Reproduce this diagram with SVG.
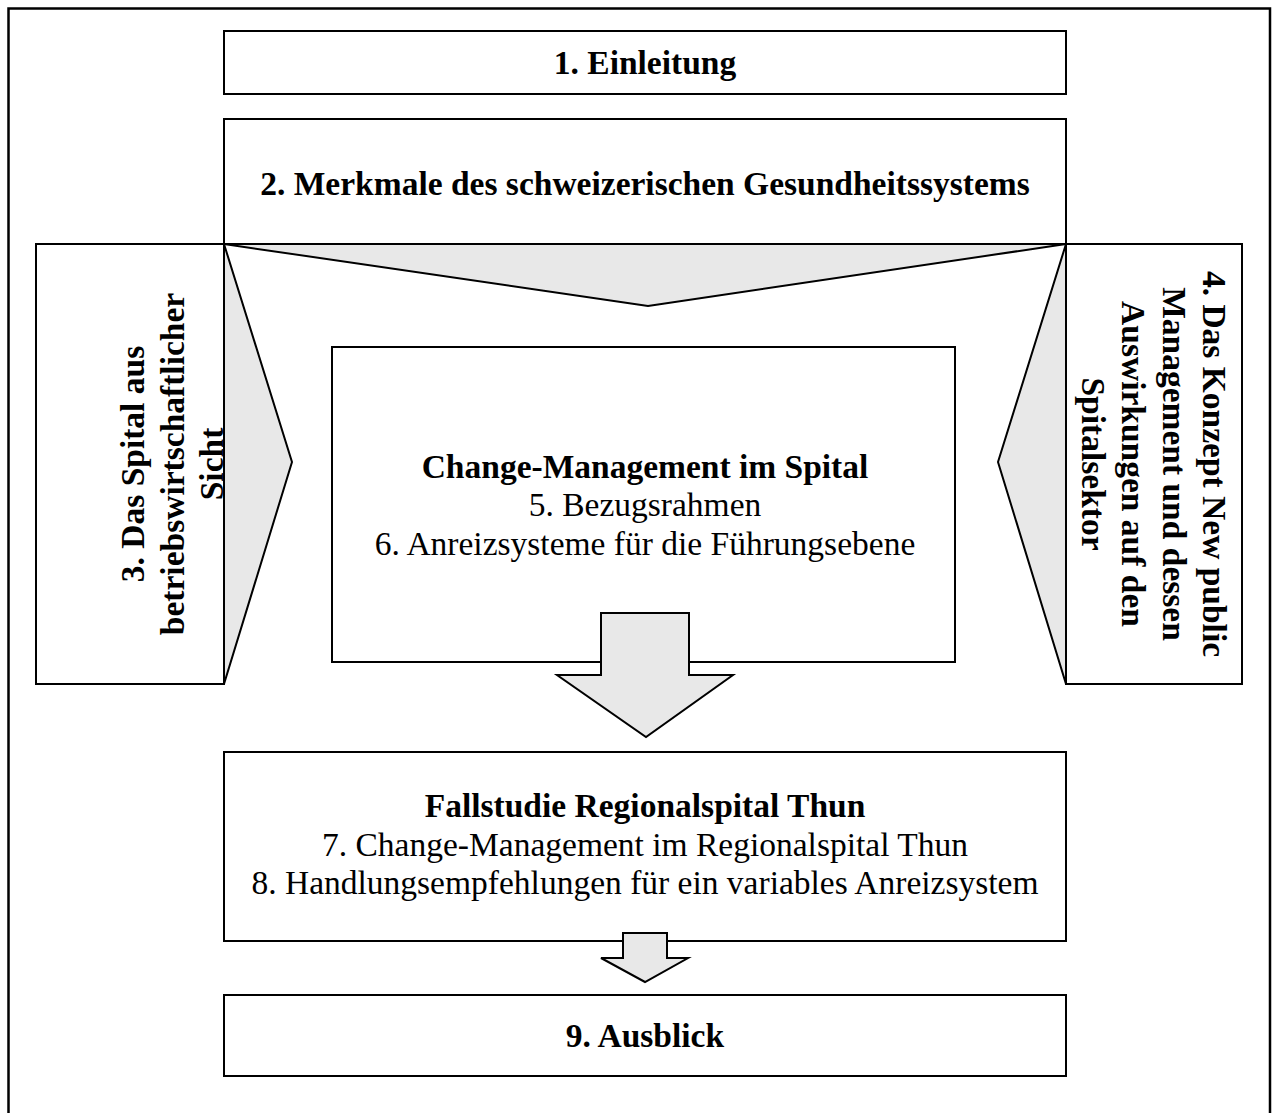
<svg xmlns="http://www.w3.org/2000/svg" width="1274" height="1113" viewBox="0 0 1274 1113">
  <style>
    .box { fill: #ffffff; stroke: #000000; stroke-width: 2; }
    .wedge { fill: #e8e8e8; stroke: #000000; stroke-width: 2; stroke-linejoin: miter; }
    .t { font-family: "Liberation Serif", "Times New Roman", serif; font-size: 33.5px; fill: #000000; text-anchor: middle; }
    .b { font-weight: bold; }
  </style>

  <!-- outer frame (open at the bottom) -->
  <path d="M8.5,1113 V8.5 H1270 V1113" fill="none" stroke="#000000" stroke-width="2.5"/>

  <g id="n1">
    <rect class="box" x="224" y="31" width="842" height="63"/>
    <text class="t b" x="645" y="74">1. Einleitung</text>
  </g>

  <g id="n2">
    <rect class="box" x="224" y="119" width="842" height="125"/>
    <text class="t b" x="645" y="195">2. Merkmale des schweizerischen Gesundheitssystems</text>
  </g>

  <g id="n3">
    <rect class="box" x="36" y="244" width="188" height="440"/>
    <text class="t b" transform="translate(144,464) rotate(-90)" x="0" y="0">3. Das Spital aus</text>
    <text class="t b" transform="translate(184,464) rotate(-90)" x="0" y="0">betriebswirtschaftlicher</text>
    <text class="t b" transform="translate(223,464) rotate(-90)" x="0" y="0">Sicht</text>
  </g>

  <g id="n4">
    <rect class="box" x="1066" y="244" width="176" height="440"/>
    <text class="t b" transform="translate(1203,464) rotate(90)" x="0" y="0">4. Das Konzept New public</text>
    <text class="t b" transform="translate(1163,464) rotate(90)" x="0" y="0">Management und dessen</text>
    <text class="t b" transform="translate(1122,464) rotate(90)" x="0" y="0">Auswirkungen auf den</text>
    <text class="t b" transform="translate(1082,464) rotate(90)" x="0" y="0">Spitalsektor</text>
  </g>

  <g id="connectors">
    <!-- wedges pointing inward from sections 2, 3 and 4 -->
    <polygon class="wedge" points="224,244 1066,244 648,306"/>
    <polygon class="wedge" points="224,244 292,462 224,684"/>
    <polygon class="wedge" points="1066,244 998,462 1066,684"/>
  </g>

  <g id="n5">
    <rect class="box" x="332" y="347" width="623" height="315"/>
    <text class="t b" x="645" y="478">Change-Management im Spital</text>
    <text class="t" x="645" y="516">5. Bezugsrahmen</text>
    <text class="t" x="645" y="555">6. Anreizsysteme für die Führungsebene</text>
  </g>

  <g id="connectors-arrows">
    <polygon class="wedge" points="601,613 689,613 689,675 733,675 646,737 557,675 601,675"/>
  </g>

  <g id="n7">
    <rect class="box" x="224" y="752" width="842" height="189"/>
    <text class="t b" x="645" y="817">Fallstudie Regionalspital Thun</text>
    <text class="t" x="645" y="856">7. Change-Management im Regionalspital Thun</text>
    <text class="t" x="645" y="894">8. Handlungsempfehlungen für ein variables Anreizsystem</text>
  </g>

  <g id="connectors-arrow2">
    <polygon class="wedge" points="623,933 667,933 667,958 688,958 645,982 601,958 623,958"/>
  </g>

  <g id="n9">
    <rect class="box" x="224" y="995" width="842" height="81"/>
    <text class="t b" x="645" y="1047">9. Ausblick</text>
  </g>
</svg>
